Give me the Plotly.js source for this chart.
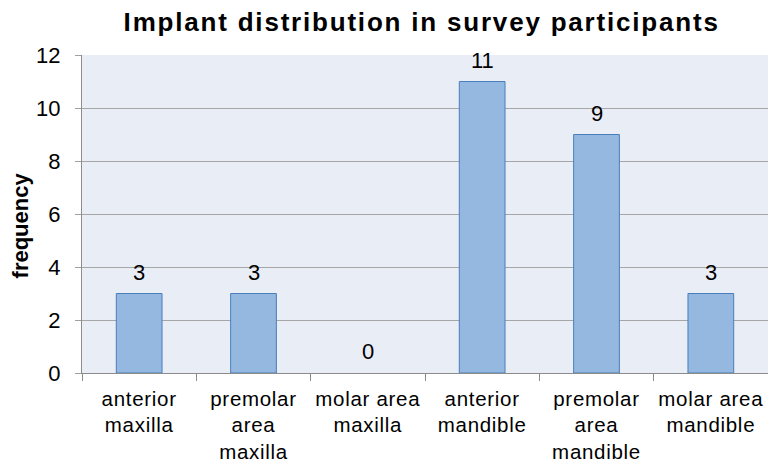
<!DOCTYPE html>
<html>
<head>
<meta charset="utf-8">
<script src="https://cdn.plot.ly/plotly-3.0.1.min.js"></script>
<style>
html,body{margin:0;padding:0;background:#fff;}
#chart{width:768px;height:463px;}
#chart .gtitle{letter-spacing:1.8px;}
#chart .xtick text{letter-spacing:0.7px;}
</style>
</head>
<body>
<div id="chart"></div>
<script>
var categories = ["anterior<br>maxilla", "premolar<br>area<br>maxilla", "molar area<br>maxilla", "anterior<br>mandible", "premolar<br>area<br>mandible", "molar area<br>mandible"];
var frequency = [3, 3, 0, 11, 9, 3];
var yTicks = [0, 2, 4, 6, 8, 10, 12];
var titleText = "Implant distribution in survey participants";
var yTitleText = "frequency";

var font = "Liberation Sans, Arial, sans-serif";

var trace = {
  type: "bar",
  x: categories,
  y: frequency,
  marker: {
    color: "#95B8E0",
    line: {color: "#4A7EBB", width: frequency.map(function (v) { return v > 0 ? 1 : 0; })}
  },
  hoverinfo: "none"
};

var annotations = categories.map(function (c, i) {
  return {
    x: c, y: frequency[i], xref: "x", yref: "y",
    text: String(frequency[i]), showarrow: false,
    yanchor: "bottom", yshift: 7,
    font: {family: font, size: 22, color: "#000"}
  };
});

annotations.push({
  text: "<b>" + yTitleText + "</b>", textangle: -90, showarrow: false,
  xref: "paper", x: 0, xanchor: "center", xshift: -62,
  yref: "paper", y: 0.464, yanchor: "middle",
  font: {family: font, size: 22, color: "#000"}
});

var layout = {
  width: 768, height: 463,
  margin: {l: 82, r: 0, t: 55, b: 90},
  paper_bgcolor: "#ffffff",
  plot_bgcolor: "#E9EDF6",
  showlegend: false,
  bargap: 0.6,
  title: {
    text: "<b>" + titleText + "</b>",
    font: {family: font, size: 26, color: "#000"},
    x: 0.549, xref: "container", xanchor: "center", y: 0.953, yref: "container", yanchor: "middle"
  },
  xaxis: {
    type: "category",
    range: [-0.5, 5.5],
    tickson: "boundaries",
    ticks: "outside", ticklen: 7, tickcolor: "#8C8C8C", tickwidth: 1,
    ticklabelstandoff: 7,
    showline: true, linecolor: "#8C8C8C", linewidth: 1,
    showgrid: false,
    tickfont: {family: font, size: 20.5, color: "#000"},
    fixedrange: true
  },
  yaxis: {
    range: [0, 12],
    tickvals: yTicks,
    ticktext: yTicks.map(String),
    ticks: "outside", ticklen: 6, tickcolor: "#A0A0A0", tickwidth: 1,
    ticklabelstandoff: 10,
    showline: true, linecolor: "#8C8C8C", linewidth: 1,
    showgrid: true, gridcolor: "#A6A6A6", gridwidth: 1,
    zeroline: false,
    tickfont: {family: font, size: 22, color: "#000"},
    fixedrange: true
  },
  annotations: annotations
};

Plotly.newPlot("chart", [trace], layout, {displayModeBar: false, staticPlot: true});
</script>
</body>
</html>
